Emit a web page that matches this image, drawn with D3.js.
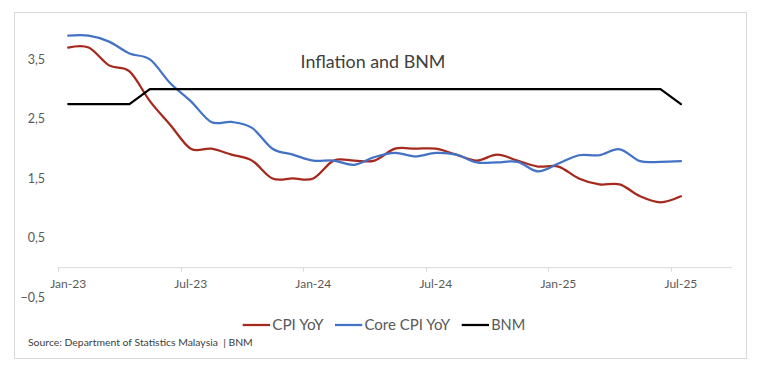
<!DOCTYPE html>
<html>
<head>
<meta charset="utf-8">
<script src="https://cdn.jsdelivr.net/npm/d3@7"></script>
<style>
  html, body { margin: 0; padding: 0; background: #fff; }
  svg { display: block; }
</style>
</head>
<body>
<div id="chart"></div>
<script>
// Data
const months = ['Jan-23','Feb-23','Mar-23','Apr-23','May-23','Jun-23','Jul-23','Aug-23','Sep-23','Oct-23','Nov-23','Dec-23',
  'Jan-24','Feb-24','Mar-24','Apr-24','May-24','Jun-24','Jul-24','Aug-24','Sep-24','Oct-24','Nov-24','Dec-24',
  'Jan-25','Feb-25','Mar-25','Apr-25','May-25','Jun-25','Jul-25'];
// the date axis runs two months past the last point
const axisMonths = months.concat(['Aug-25', 'Sep-25']);
const cpi = [3.7,3.7,3.4,3.3,2.8,2.4,2.0,2.0,1.9,1.8,1.5,1.5,1.5,1.8,1.8,1.8,2.0,2.0,2.0,1.9,1.8,1.9,1.8,1.7,1.7,1.5,1.4,1.4,1.2,1.1,1.2];
const coreCpi = [3.9,3.9,3.8,3.6,3.5,3.1,2.8,2.45,2.45,2.35,2.0,1.9,1.8,1.8,1.73,1.86,1.93,1.87,1.93,1.9,1.77,1.77,1.78,1.62,1.75,1.89,1.89,1.99,1.79,1.78,1.79];
const bnm = [2.75,2.75,2.75,2.75,3,3,3,3,3,3,3,3,3,3,3,3,3,3,3,3,3,3,3,3,3,3,3,3,3,3,2.75];
const yTicks = [-0.5, 0.5, 1.5, 2.5, 3.5];
const xTickLabels = ['Jan-23','Jul-23','Jan-24','Jul-24','Jan-25','Jul-25'];

const series = [
  { name: 'CPI YoY', values: cpi, color: '#A5291D', smooth: true },
  { name: 'Core CPI YoY', values: coreCpi, color: '#4472C4', smooth: true },
  { name: 'BNM', values: bnm, color: '#000000', smooth: false }
];

const W = 763, H = 373;
const font = 'Lato, "Open Sans", sans-serif';
const axisColor = '#d9d9d9';
const textColor = '#595959';

const svg = d3.select('#chart').append('svg')
  .attr('width', W)
  .attr('height', H);

// chart area border
svg.append('rect')
  .attr('x', 14.5).attr('y', 12.5)
  .attr('width', 732).attr('height', 346)
  .attr('fill', '#fff')
  .attr('stroke', axisColor)
  .attr('stroke-width', 1);

const x = d3.scaleBand().domain(axisMonths).range([58, 732]).padding(0);
const y = d3.scaleLinear().domain([0, 4]).range([267.7, 29.7]);
const cx = m => x(m) + x.bandwidth() / 2;

const fmt = d3.formatLocale({ decimal: ',', thousands: '.', grouping: [3], currency: ['', ''] }).format('.1f');

// fit a text element to a width
function fitWidth(sel, target) {
  const node = sel.node();
  const size = parseFloat(sel.attr('font-size'));
  const w = node.getComputedTextLength();
  if (w > 0) sel.attr('font-size', (size * target / w).toFixed(2));
}

// y labels
svg.append('g').selectAll('text')
  .data(yTicks)
  .enter().append('text')
  .attr('x', 45)
  .attr('y', d => y(d))
  .attr('dy', '0.35em')
  .attr('text-anchor', 'end')
  .attr('font-family', font)
  .attr('font-size', 12.5)
  .attr('fill', textColor)
  .text(d => fmt(d));

// x axis line and ticks
svg.append('line')
  .attr('x1', 58).attr('x2', 732)
  .attr('y1', y(0)).attr('y2', y(0))
  .attr('stroke', axisColor)
  .attr('stroke-width', 1);

svg.append('g').selectAll('line')
  .data(xTickLabels)
  .enter().append('line')
  .attr('x1', d => Math.round(x(d)) + 0.5)
  .attr('x2', d => Math.round(x(d)) + 0.5)
  .attr('y1', y(0))
  .attr('y2', y(0) + 4)
  .attr('stroke', axisColor);

svg.append('g').selectAll('text')
  .data(xTickLabels)
  .enter().append('text')
  .attr('x', d => cx(d))
  .attr('y', 288)
  .attr('text-anchor', 'middle')
  .attr('font-family', font)
  .attr('font-size', 12)
  .attr('fill', textColor)
  .text(d => d);

// lines
const smoothLine = d3.line()
  .x((d, i) => cx(months[i]))
  .y(d => y(d))
  .curve(d3.curveCardinal.tension(0));

const straightLine = d3.line()
  .x((d, i) => cx(months[i]))
  .y(d => y(d));

svg.append('g').selectAll('path')
  .data(series)
  .enter().append('path')
  .attr('d', s => (s.smooth ? smoothLine : straightLine)(s.values))
  .attr('fill', 'none')
  .attr('stroke', d => d.color)
  .attr('stroke-width', 2.25)
  .attr('stroke-linejoin', 'round')
  .attr('stroke-linecap', 'round');

// title
const title = svg.append('text')
  .attr('x', 373)
  .attr('y', 68)
  .attr('text-anchor', 'middle')
  .attr('font-family', font)
  .attr('font-size', 19)
  .attr('fill', '#404040')
  .text('Inflation and BNM');
fitWidth(title, 145);

// legend
const legendX = [242.7, 335, 461.7];
const legendW = [81.5, 115.7, 64];
const legend = svg.append('g').selectAll('g')
  .data(series)
  .enter().append('g')
  .attr('transform', (d, i) => `translate(${legendX[i]},325)`);

legend.append('line')
  .attr('x1', 0).attr('x2', 27.3)
  .attr('stroke', d => d.color)
  .attr('stroke-width', 2.25);

legend.append('text')
  .attr('x', 29.5)
  .attr('y', 4.5)
  .attr('font-family', font)
  .attr('font-size', 15)
  .attr('fill', textColor)
  .text(d => d.name)
  .each(function(d, i) { fitWidth(d3.select(this), legendW[i] - 29.5 - 0.5); });

// source note
const source = svg.append('text')
  .attr('x', 28)
  .attr('y', 346)
  .attr('font-family', font)
  .attr('font-size', 10)
  .attr('fill', '#404040')
  .attr('xml:space', 'preserve')
  .style('white-space', 'pre')
  .text('Source: Department of Statistics Malaysia  | BNM');
fitWidth(source, 225);
</script>
</body>
</html>
